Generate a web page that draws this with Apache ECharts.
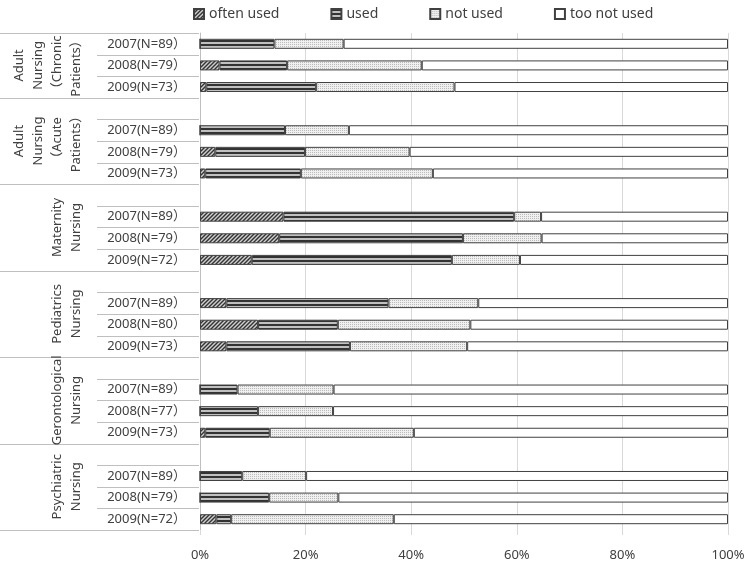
<!DOCTYPE html>
<html><head><meta charset="utf-8">
<script src="https://cdn.jsdelivr.net/npm/echarts@6/dist/echarts.min.js"></script>
<style>html,body{margin:0;padding:0;background:#fff}#c{width:750px;height:570px}</style>
</head><body><div id="c"></div>
<script>
// ---- data ----
const legendNames = ['often used', 'used', 'not used', 'too not used'];
const groupNames = [
  'Adult\nNursing\n（Chronic\nPatients）',
  'Adult\nNursing\n（Acute\nPatients）',
  'Maternity\nNursing',
  'Pediatrics\nNursing',
  'Gerontological\nNursing',
  'Psychiatric\nNursing'
];
const yearLabels = [
  ['2007(N=89）', '2008(N=79）', '2009(N=73）'],
  ['2007(N=89）', '2008(N=79）', '2009(N=73）'],
  ['2007(N=89）', '2008(N=79）', '2009(N=72）'],
  ['2007(N=89）', '2008(N=80）', '2009(N=73）'],
  ['2007(N=89）', '2008(N=77）', '2009(N=73）'],
  ['2007(N=89）', '2008(N=79）', '2009(N=72）']
];
const oftenUsed  = [0, 3.7, 1.2,  0, 2.9, 1.0,  15.8, 15.0, 9.8,  5.0, 11.0, 5.0,  0, 0, 1.0,  0, 0, 3.1];
const used       = [14.1, 12.8, 20.8,  16.1, 17.0, 18.1,  43.7, 34.8, 37.9,  30.7, 15.1, 23.4,  7.1, 11.0, 12.2,  8.0, 13.1, 2.8];
const notUsed    = [13.1, 25.5, 26.2,  12.1, 19.8, 25.0,  5.1, 14.9, 12.9,  17.0, 25.1, 22.2,  18.2, 14.2, 27.3,  12.1, 13.1, 30.8];
const tooNotUsed = [72.8, 58.0, 51.8,  71.8, 60.3, 55.9,  35.4, 35.3, 39.4,  47.3, 48.8, 49.4,  74.7, 74.8, 59.5,  79.9, 73.8, 63.3];
const xTicks = [0, 20, 40, 60, 80, 100];

// ---- rows (first group has no leading blank row) ----
const rows = [];
groupNames.forEach((g, gi) => {
  if (gi > 0) rows.push({ label: '', blank: true, g: gi, k: -1 });
  yearLabels[gi].forEach((y, yi) => rows.push({ label: y, blank: false, g: gi, k: gi * 3 + yi }));
});
const cats = rows.map((r, i) => 'r' + i);
const pick = arr => rows.map(r => r.blank ? null : arr[r.k]);

function pat(w, h, draw) {
  const c = document.createElement('canvas'); c.width = w; c.height = h;
  const ctx = c.getContext('2d'); draw(ctx); return { image: c, repeat: 'repeat' };
}
const hatch = pat(4, 4, ctx => {
  ctx.fillStyle = '#cfcfcf'; ctx.fillRect(0, 0, 4, 4);
  ctx.strokeStyle = '#333333'; ctx.lineWidth = 1.4;
  ctx.beginPath();
  ctx.moveTo(-1, 1); ctx.lineTo(1, -1);
  ctx.moveTo(0, 4); ctx.lineTo(4, 0);
  ctx.moveTo(3, 5); ctx.lineTo(5, 3);
  ctx.stroke();
});
const stripes = pat(4, 4, ctx => {
  ctx.fillStyle = '#c0c0c0'; ctx.fillRect(0, 0, 4, 4);
  ctx.fillStyle = '#333333'; ctx.fillRect(0, 0, 4, 2);
});
const dots = pat(2, 2, ctx => {
  ctx.fillStyle = '#f0f0f0'; ctx.fillRect(0, 0, 2, 2);
  ctx.fillStyle = '#bbbbbb'; ctx.fillRect(0, 0, 1, 1);
});
const fills = [hatch, stripes, dots, '#ffffff'];
const values = [oftenUsed, used, notUsed, tooNotUsed];

const FONT = '"Noto Sans", "Noto Sans CJK JP", sans-serif';
const chart = echarts.init(document.getElementById('c'), null, { renderer: 'canvas' });
chart.setOption({
  animation: false,
  textStyle: { fontFamily: FONT },
  legend: {
    left: 188, top: 2, itemWidth: 10, itemHeight: 10, itemGap: 51, icon: 'rect',
    textStyle: { fontSize: 14, color: '#404040', fontFamily: FONT },
    data: legendNames
  },
  grid: { left: 200, right: 22, top: 33, bottom: 40, containLabel: false },
  xAxis: {
    type: 'value', min: 0, max: 100, interval: 20,
    axisLine: { show: false },
    axisTick: { show: true, length: 5, lineStyle: { color: '#d9d9d9' } },
    splitLine: { show: true, lineStyle: { color: '#d9d9d9', width: 1 } },
    axisLabel: { formatter: v => v + '%', fontSize: 13, color: '#404040', margin: 19, fontFamily: FONT }
  },
  yAxis: {
    type: 'category', inverse: true, data: cats,
    axisLine: { show: true, lineStyle: { color: '#bfbfbf' } },
    axisTick: { show: false },
    axisLabel: { formatter: (v, i) => rows[i].label, fontSize: 13, color: '#404040', margin: 14, fontFamily: FONT }
  },
  series: legendNames.map((n, si) => ({
    name: n, type: 'bar', stack: 'total', barWidth: 10,
    itemStyle: { color: fills[si], borderColor: '#404040', borderWidth: 1 },
    data: pick(values[si])
  }))
});

// separators and group labels, positioned from the axis scale
const p0 = chart.convertToPixel({ yAxisIndex: 0 }, 0);
const band = chart.convertToPixel({ yAxisIndex: 0 }, 1) - p0;
const by = i => p0 + (i - 0.5) * band;
const graphics = [];
for (let i = 0; i <= rows.length; i++) {
  const full = i === 0 || i === rows.length || rows[i].blank;
  const y = Math.round(by(i)) + 0.5;
  graphics.push({ type: 'line', silent: true,
    shape: { x1: full ? 0 : 97, y1: y, x2: 199, y2: y },
    style: { stroke: '#bfbfbf', lineWidth: 1 } });
}
groupNames.forEach((g, gi) => {
  let first = -1, last = -1;
  rows.forEach((r, i) => { if (r.g === gi) { if (first < 0) first = i; last = i; } });
  const cy = (by(first) + by(last + 1)) / 2;
  graphics.push({ type: 'text', silent: true, x: 86, y: cy, rotation: Math.PI / 2,
    style: { text: g, x: 0, y: 0, align: 'center', verticalAlign: 'bottom',
      font: '13px ' + FONT, lineHeight: 19, fill: '#404040' } });
});
chart.setOption({ graphic: graphics });
</script></body></html>
